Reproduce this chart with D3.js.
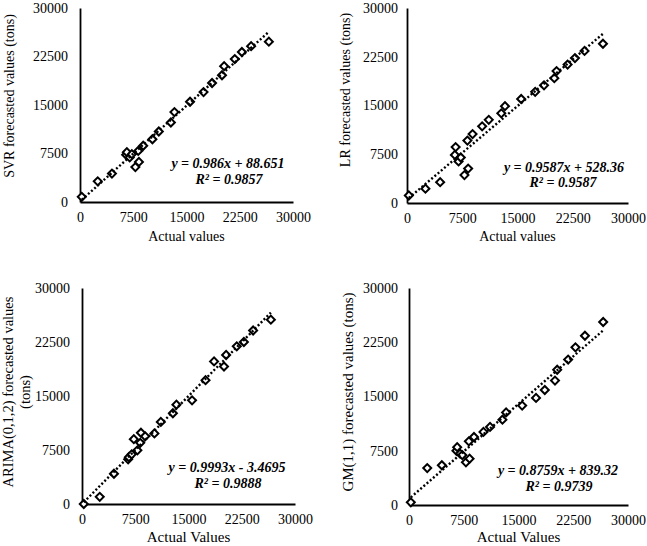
<!DOCTYPE html>
<html><head><meta charset="utf-8">
<script src="https://cdn.jsdelivr.net/npm/d3@7"></script>
<style>
html,body{margin:0;padding:0;background:#fff;}
svg{display:block;}
text{font-family:"Liberation Serif","Times New Roman",serif;fill:#000;}
</style></head>
<body>
<svg id="chart" width="647" height="546"></svg>
<script>
// ---- data ----
const actual    = [250, 2500, 4500, 6500, 6600, 7000, 7300, 7800, 8200, 8300, 8900, 10200, 11100, 12800, 13300, 15500, 17400, 18600, 20000, 20300, 21800, 22800, 24100, 26600];
const svrPred   = [800, 3200, 4400, 7300, 7700, 6900, 7400, 5400, 7900, 6200, 8700, 9700, 10900, 12300, 13900, 15500, 17000, 18400, 19600, 21000, 22100, 23200, 24100, 24800];
const lrPred    = [1160, 2200, 3200, 7400, 8600, 6400, 7000, 4300, 9600, 5300, 10600, 11800, 12800, 13800, 14900, 16000, 17100, 18100, 19200, 20300, 21300, 22300, 23400, 24500];
const arimaPred = [0, 1000, 4200, 6200, 6500, 6900, 9000, 7450, 8500, 9900, 9400, 9800, 11400, 12600, 13800, 14400, 17200, 19800, 19100, 20700, 21900, 22500, 24100, 25600];
const gmPred    = [370, 5100, 5500, 7500, 8000, 7100, 6900, 5900, 8800, 6400, 9400, 10100, 10800, 11800, 12800, 13750, 14800, 15900, 17200, 18700, 20100, 21800, 23400, 25300];
const tickValues = [0, 7500, 15000, 22500, 30000];
const models     = ["SVR", "LR", "ARIMA(0,1,2)", "GM(1,1)"];
const slopes     = [0.986, 0.9587, 0.9993, 0.8759];
const intercepts = [88.651, 528.36, -3.4695, 839.32];
const equations  = ["y = 0.986x + 88.651", "y = 0.9587x + 528.36", "y = 0.9993x - 3.4695", "y = 0.8759x + 839.32"];
const r2Labels   = ["R² = 0.9857", "R² = 0.9587", "R² = 0.9888", "R² = 0.9739"];
const yTitles    = [["SVR forecasted values (tons)"], ["LR forecasted values (tons)"], ["ARIMA(0,1,2) forecasted values", "(tons)"], ["GM(1,1) forecasted values (tons)"]];
const xTitles    = ["Actual values", "Actual values", "Actual Values", "Actual Values"];

// ---- layout ----
const preds = [svrPred, lrPred, arimaPred, gmPred];
const layout = [
  {x0:80,  x1:293, y0:202, y1:8,   ygap:12, ytx:[9],     yty:96,  xtFs:14, ytFs:14, xty:236, eq:[228,163,229,179]},
  {x0:407, x1:628, y0:203, y1:8,   ygap:9,  ytx:[345],   yty:90,  xtFs:14, ytFs:14, xty:236, eq:[564,167,563,182]},
  {x0:82,  x1:295, y0:504, y1:288, ygap:12, ytx:[8,25],  yty:392, xtFs:15, ytFs:14.5, xty:537, eq:[227,467,228,483]},
  {x0:409, x1:628, y0:505, y1:288, ygap:11, ytx:[348],   yty:392, xtFs:15, ytFs:15, xty:537, eq:[558,470,559,486]}
];

const svg = d3.select("#chart");
const diamond = d3.symbol().type(d3.symbolSquare).size(32);

models.forEach((m, i) => {
  const L = layout[i];
  const x = d3.scaleLinear().domain([0, 30000]).range([L.x0, L.x1]);
  const y = d3.scaleLinear().domain([0, 30000]).range([L.y0, L.y1]);
  const g = svg.append("g");

  const xa = g.append("g").attr("transform", `translate(0,${L.y0})`)
    .call(d3.axisBottom(x).tickValues(tickValues).tickFormat(d3.format("d")).tickSize(0).tickPadding(10));
  const ya = g.append("g").attr("transform", `translate(${L.x0},0)`)
    .call(d3.axisLeft(y).tickValues(tickValues).tickFormat(d3.format("d")).tickSize(0).tickPadding(L.ygap));
  [xa, ya].forEach(a => {
    a.attr("font-family", null);
    a.select(".domain").attr("stroke", "#000").attr("stroke-width", 1.8);
    a.selectAll("text").attr("font-size", 14);
  });

  const pts = actual.map((a, k) => ({a, p: preds[i][k]}));
  g.selectAll("path.pt").data(pts).join("path").attr("class", "pt")
    .attr("d", diamond)
    .attr("transform", d => `translate(${x(d.a)},${y(d.p)}) rotate(45)`)
    .attr("fill", "#fff").attr("stroke", "#000").attr("stroke-width", 2);

  const xmin = d3.min(actual), xmax = d3.max(actual);
  g.append("line")
    .attr("x1", x(xmin)).attr("y1", y(slopes[i] * xmin + intercepts[i]))
    .attr("x2", x(xmax)).attr("y2", y(slopes[i] * xmax + intercepts[i]))
    .attr("stroke", "#000").attr("stroke-width", 2.4).attr("stroke-dasharray", "2,2.2");

  g.append("text").attr("x", L.eq[0]).attr("y", L.eq[1]).attr("text-anchor", "middle")
    .attr("dominant-baseline", "central").attr("font-size", 14)
    .attr("font-style", "italic").attr("font-weight", "bold").text(equations[i]);
  g.append("text").attr("x", L.eq[2]).attr("y", L.eq[3]).attr("text-anchor", "middle")
    .attr("dominant-baseline", "central").attr("font-size", 14)
    .attr("font-style", "italic").attr("font-weight", "bold").text(r2Labels[i]);

  g.append("text").attr("x", (L.x0 + L.x1) / 2).attr("y", L.xty).attr("text-anchor", "middle")
    .attr("dominant-baseline", "central").attr("font-size", L.xtFs).text(xTitles[i]);

  yTitles[i].forEach((t, j) => {
    g.append("text").attr("transform", `translate(${L.ytx[j]},${L.yty}) rotate(-90)`)
      .attr("text-anchor", "middle").attr("dominant-baseline", "central")
      .attr("font-size", L.ytFs).text(t);
  });
});
</script>
</body></html>
